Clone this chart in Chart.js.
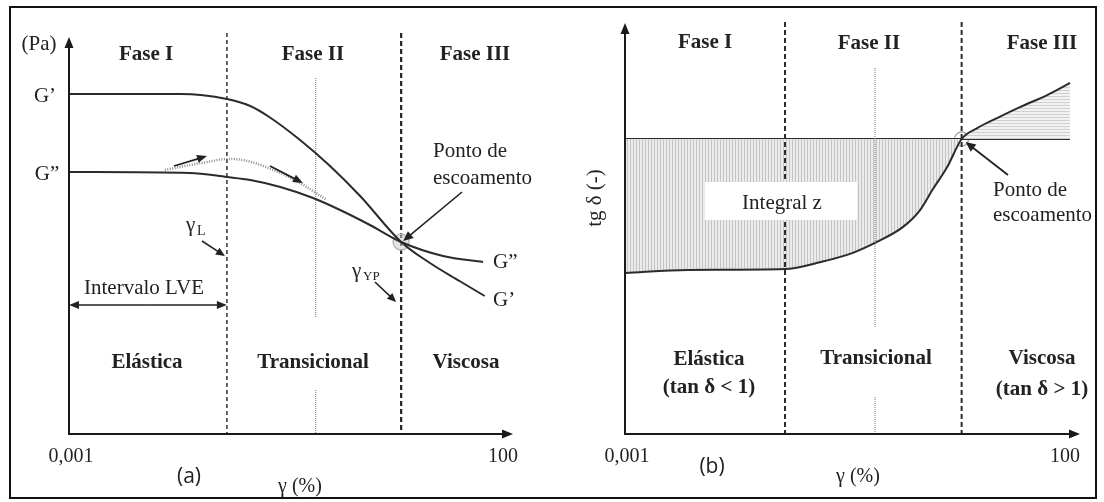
<!DOCTYPE html>
<html>
<head>
<meta charset="utf-8">
<script src="https://cdn.jsdelivr.net/npm/chart.js@4.4.1/dist/chart.umd.min.js"></script>
<style>
  html, body { margin: 0; padding: 0; background: #fff; }
  #wrap { position: relative; width: 1104px; height: 502px; overflow: hidden; }
  #wrap canvas { position: absolute; left: 0; top: 0; }
  #frame { position: absolute; left: 9px; top: 6px; width: 1084px; height: 489px; border: 2.5px solid #111; }
</style>
</head>
<body>
<div id="wrap">
  <canvas id="chartA" width="1104" height="502"></canvas>
  <canvas id="chartB" width="1104" height="502"></canvas>
  <div id="frame"></div>
</div>
<script>
// --- strain axis (log) ---
const X_MIN = 0.001, X_MAX = 100;
const xTickLabels = ['0,001', '100'];
const phaseLimits = [0.06, 5.5];   // gamma_L, gamma_YP
const midPhase = 0.6;
const phaseNames = ['Fase I', 'Fase II', 'Fase III'];

// --- (a) G' / G'' ---
const gPrimeX  = [0.001, 0.018, 0.06, 0.11, 0.18, 0.4, 0.87, 1.9, 5.5, 11.6, 25, 48];
const gPrimeY  = [85, 85, 83.75, 82, 79.25, 73.5, 67, 59.5, 48, 42.75, 38.25, 34.5];
const gDoubleX = [0.001, 0.023, 0.06, 0.11, 0.24, 0.56, 1.13, 2.45, 5.5, 16.3, 46];
const gDoubleY = [65.5, 65.25, 64.25, 63.5, 61.75, 59, 56, 52.25, 48, 44.5, 43];
const bumpX    = [0.012, 0.023, 0.036, 0.06, 0.091, 0.2, 0.4, 0.8];
const bumpY    = [66, 67.25, 68, 68.75, 68.5, 66, 62.75, 58.5];
const yieldA   = [5.5, 48];

// --- (b) tan delta ---
const tanX = [0.001, 0.005, 0.06, 0.15, 0.34, 0.63, 1.23, 1.9, 2.6, 3.8, 5.5, 8.2, 13.6, 24.4, 49, 88];
const tanY = [0.546, 0.556, 0.559, 0.583, 0.614, 0.651, 0.702, 0.759, 0.827, 0.905, 1.0, 1.037, 1.071, 1.108, 1.149, 1.19];
const tanRef = 1;
const yieldB = [5.5, 1];

const SERIF = '"Liberation Serif", "DejaVu Serif", serif';
const SANS = '"Open Sans", "Noto Sans", sans-serif';
const INK = '#222';

const pts = (xs, ys) => xs.map((x, i) => ({ x, y: ys[i] }));

function hatch(vertical) {
    const c = document.createElement('canvas');
    c.width = 3; c.height = 3;
    const g = c.getContext('2d');
    g.fillStyle = vertical ? '#ebebeb' : '#f2f2f2';
    g.fillRect(0, 0, 3, 3);
    g.fillStyle = vertical ? '#c4c4c4' : '#d0d0d0';
    if (vertical) g.fillRect(0, 0, 1, 3); else g.fillRect(0, 0, 3, 1);
    return g.createPattern(c, 'repeat');
}

function label(ctx, s, x, y, size, bold, align = 'center', font = SERIF) {
    ctx.font = `${bold ? 'bold ' : ''}${size}px ${font}`;
    ctx.fillStyle = INK;
    ctx.textAlign = align;
    ctx.textBaseline = 'middle';
    ctx.fillText(s, x, y);
}

function head(ctx, x1, y1, x2, y2, len = 10, w = 4) {
    const a = Math.atan2(y2 - y1, x2 - x1);
    const c = Math.cos(a), s = Math.sin(a);
    ctx.beginPath();
    ctx.moveTo(x2, y2);
    ctx.lineTo(x2 - len * c + w * s, y2 - len * s - w * c);
    ctx.lineTo(x2 - len * c - w * s, y2 - len * s + w * c);
    ctx.closePath();
    ctx.fill();
}

function arrow(ctx, x1, y1, x2, y2, len = 10, w = 4, lw = 1.6) {
    ctx.setLineDash([]);
    ctx.strokeStyle = INK; ctx.fillStyle = INK; ctx.lineWidth = lw;
    const a = Math.atan2(y2 - y1, x2 - x1);
    ctx.beginPath();
    ctx.moveTo(x1, y1);
    ctx.lineTo(x2 - (len - 2) * Math.cos(a), y2 - (len - 2) * Math.sin(a));
    ctx.stroke();
    head(ctx, x1, y1, x2, y2, len, w);
}

function vline(ctx, x, y1, y2, dash, lw, color) {
    ctx.setLineDash(dash);
    ctx.strokeStyle = color; ctx.lineWidth = lw;
    ctx.beginPath(); ctx.moveTo(x, y1); ctx.lineTo(x, y2); ctx.stroke();
    ctx.setLineDash([]);
}

function axes(ctx, area, yTop, xRight) {
    ctx.setLineDash([]);
    ctx.strokeStyle = '#1a1a1a'; ctx.fillStyle = '#1a1a1a'; ctx.lineWidth = 2;
    ctx.beginPath();
    ctx.moveTo(area.left, yTop + 8);
    ctx.lineTo(area.left, area.bottom);
    ctx.lineTo(xRight - 8, area.bottom);
    ctx.stroke();
    head(ctx, area.left, yTop + 20, area.left, yTop, 11, 4.5);
    head(ctx, xRight - 20, area.bottom, xRight, area.bottom, 11, 4.5);
}

function tickLabels(ctx, xs, area) {
    label(ctx, xTickLabels[0], xs.getPixelForValue(X_MIN) + 2, area.bottom + 23, 20, false);
    label(ctx, xTickLabels[1], xs.getPixelForValue(X_MAX) - 10, area.bottom + 23, 20, false);
}

const panelA = {
    id: 'panelA',
    beforeDatasetsDraw(chart) {
        const { ctx, chartArea: a, scales: { x } } = chart;
        ctx.save();
        vline(ctx, x.getPixelForValue(phaseLimits[0]), a.top - 1, a.bottom, [4, 3], 1.5, '#333');
        vline(ctx, x.getPixelForValue(phaseLimits[1]), a.top - 1, a.bottom, [5, 3], 2.2, '#222');
        const xm = x.getPixelForValue(midPhase);
        vline(ctx, xm, 78, 318, [1, 1], 1, '#777');
        vline(ctx, xm, 390, a.bottom, [1, 1], 1, '#777');
        ctx.restore();
    },
    afterDatasetsDraw(chart) {
        const { ctx, chartArea: a, scales: { x, y } } = chart;
        ctx.save();
        axes(ctx, a, 37, 513);

        label(ctx, '(Pa)', 39, 44, 21, false);
        label(ctx, 'G\u2019', 45, 96, 21, false);
        label(ctx, 'G\u201D', 47, 174, 21, false);
        label(ctx, phaseNames[0], 146, 55, 21, true);
        label(ctx, phaseNames[1], 313, 55, 21, true);
        label(ctx, phaseNames[2], 475, 55, 21, true);

        // arrows along the dotted bump
        arrow(ctx, 174, 166, 207, 156, 10, 4, 1.8);
        arrow(ctx, 270, 166, 303, 183, 10, 4, 1.8);

        // gamma L
        label(ctx, '\u03B3', 186, 225, 21, false, 'left');
        label(ctx, 'L', 197, 231, 14, false, 'left');
        const xl = x.getPixelForValue(phaseLimits[0]);
        arrow(ctx, 202, 241, xl - 2, 256, 9, 4);

        // LVE interval
        label(ctx, 'Intervalo LVE', 144, 288, 21, false);
        arrow(ctx, (a.left + xl) / 2, 305, a.left, 305, 10, 4);
        arrow(ctx, (a.left + xl) / 2, 305, xl, 305, 10, 4);

        // gamma YP
        const xy = x.getPixelForValue(phaseLimits[1]);
        label(ctx, '\u03B3', 352, 271, 21, false, 'left');
        label(ctx, 'YP', 363, 277, 13, false, 'left');
        arrow(ctx, 375, 282, xy - 5, 302, 9, 4);

        // yield point
        label(ctx, 'Ponto de', 433, 151, 21, false, 'left');
        label(ctx, 'escoamento', 433, 178, 21, false, 'left');
        const px = x.getPixelForValue(yieldA[0]), py = y.getPixelForValue(yieldA[1]);
        arrow(ctx, 462, 192, px + 2, py - 1, 10, 4.5);

        label(ctx, 'G\u201D', 493, 262, 21, false, 'left');
        label(ctx, 'G\u2019', 493, 300, 21, false, 'left');

        label(ctx, 'El\u00E1stica', 147, 363, 21, true);
        label(ctx, 'Transicional', 313, 363, 21, true);
        label(ctx, 'Viscosa', 466, 363, 21, true);

        tickLabels(ctx, x, a);
        label(ctx, '\u03B3 (%)', 300, 487, 20, false);
        label(ctx, '(a)', 189, 477, 21, false, 'center', SANS);
        ctx.restore();
    }
};

const panelB = {
    id: 'panelB',
    afterDatasetsDraw(chart) {
        const { ctx, chartArea: a, scales: { x, y } } = chart;
        ctx.save();
        vline(ctx, x.getPixelForValue(phaseLimits[0]), a.top + 1, a.bottom, [5, 3], 2, '#2a2a2a');
        vline(ctx, x.getPixelForValue(phaseLimits[1]), a.top + 1, a.bottom, [5, 3], 2, '#2a2a2a');
        const xm = x.getPixelForValue(midPhase);
        vline(ctx, xm, 68, 327, [1, 1], 1, '#777');
        vline(ctx, xm, 397, a.bottom, [1, 1], 1, '#777');
        axes(ctx, a, 23, 1080);

        // Integral z box
        ctx.fillStyle = '#fff';
        ctx.fillRect(705, 182, 152, 38);
        label(ctx, 'Integral z', 782, 203, 21, false);

        label(ctx, phaseNames[0], 705, 43, 21, true);
        label(ctx, phaseNames[1], 869, 44, 21, true);
        label(ctx, phaseNames[2], 1042, 44, 21, true);

        ctx.save();
        ctx.translate(595, 198);
        ctx.rotate(-Math.PI / 2);
        label(ctx, 'tg \u03B4 (-)', 0, 0, 21, false);
        ctx.restore();

        const px = x.getPixelForValue(yieldB[0]), py = y.getPixelForValue(yieldB[1]);
        arrow(ctx, 1008, 175, px + 4, py + 3, 10, 4.5, 1.8);
        label(ctx, 'Ponto de', 993, 190, 21, false, 'left');
        label(ctx, 'escoamento', 993, 215, 21, false, 'left');

        label(ctx, 'El\u00E1stica', 709, 360, 21, true);
        label(ctx, '(tan \u03B4 < 1)', 709, 388, 21, true);
        label(ctx, 'Transicional', 876, 359, 21, true);
        label(ctx, 'Viscosa', 1042, 359, 21, true);
        label(ctx, '(tan \u03B4 > 1)', 1042, 390, 21, true);

        tickLabels(ctx, x, a);
        label(ctx, '\u03B3 (%)', 858, 477, 20, false);
        label(ctx, '(b)', 712, 467, 21, false, 'center', SANS);
        ctx.restore();
    }
};

const solid = { borderColor: '#2b2b2b', borderWidth: 2, pointRadius: 0, fill: false, cubicInterpolationMode: 'monotone' };
const baseOptions = (padding, yMax) => ({
    responsive: false,
    animation: false,
    events: [],
    layout: { padding },
    plugins: { legend: { display: false }, tooltip: { enabled: false } },
    scales: {
        x: { type: 'logarithmic', min: X_MIN, max: X_MAX, display: false },
        y: { min: 0, max: yMax, display: false }
    }
});

new Chart(document.getElementById('chartA'), {
    type: 'line',
    data: {
        datasets: [
            { ...solid, label: 'G\u2019', data: pts(gPrimeX, gPrimeY) },
            { ...solid, label: 'G\u201D', data: pts(gDoubleX, gDoubleY) },
            { label: 'G\u201D (overshoot)', data: pts(bumpX, bumpY), borderColor: '#8c8c8c', borderWidth: 2.5,
              borderDash: [1, 1.5], pointRadius: 0, cubicInterpolationMode: 'monotone' },
            { label: 'yield', data: [{ x: yieldA[0], y: yieldA[1] }], showLine: false, pointRadius: 8,
              pointBackgroundColor: 'rgba(205,205,205,0.55)', pointBorderColor: '#b8b8b8', pointBorderWidth: 1.5, order: 5 }
        ]
    },
    options: baseOptions({ left: 69, right: 591, top: 34, bottom: 68 }, 100),
    plugins: [panelA]
});

new Chart(document.getElementById('chartB'), {
    type: 'line',
    data: {
        datasets: [
            { ...solid, label: 'tan \u03B4', data: pts(tanX, tanY),
              fill: { target: 1, above: hatch(false), below: hatch(true) } },
            { ...solid, label: 'tan \u03B4 = 1', cubicInterpolationMode: 'default', tension: 0,
              data: [{ x: X_MIN, y: tanRef }, { x: tanX[tanX.length - 1], y: tanRef }] },
            { label: 'yield', data: [{ x: yieldB[0], y: yieldB[1] }], showLine: false, pointRadius: 7,
              pointBackgroundColor: 'rgba(0,0,0,0)', pointBorderColor: '#a8a8a8', pointBorderWidth: 1.3 }
        ]
    },
    options: baseOptions({ left: 625, right: 29, top: 21, bottom: 68 }, 1.4),
    plugins: [panelB]
});
</script>
</body>
</html>
